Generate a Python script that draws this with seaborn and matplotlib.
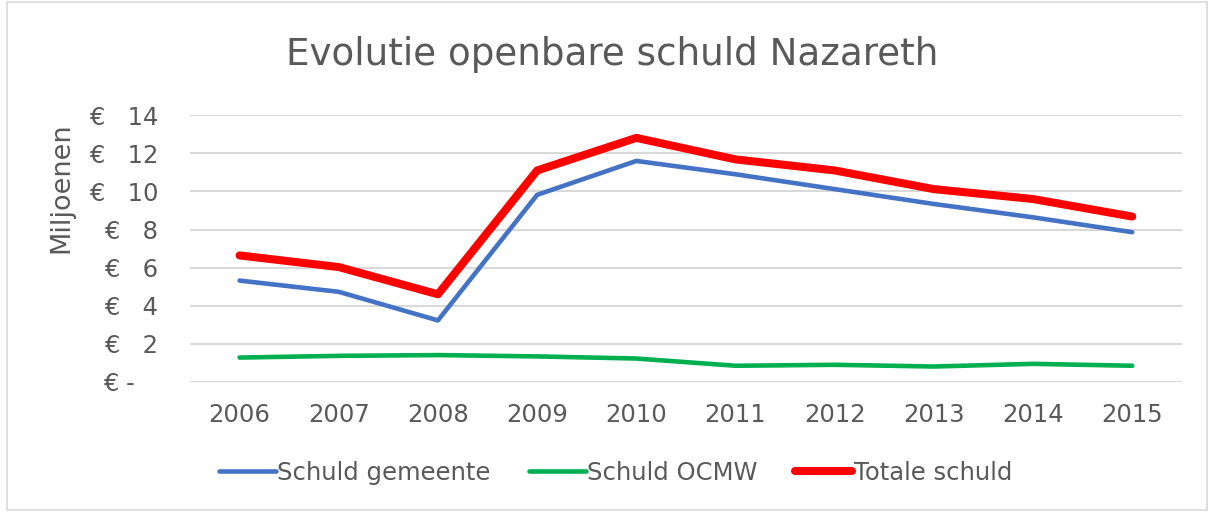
import pandas as pd
import seaborn as sns
import matplotlib.pyplot as plt
from matplotlib.patches import Rectangle

years = [2006, 2007, 2008, 2009, 2010, 2011, 2012, 2013, 2014, 2015]
schuld_gemeente = [5.32, 4.73, 3.23, 9.82, 11.60, 10.90, 10.12, 9.34, 8.64, 7.86]
schuld_ocmw = [1.28, 1.37, 1.41, 1.34, 1.23, 0.85, 0.90, 0.81, 0.95, 0.85]
totale_schuld = [6.64, 6.03, 4.60, 11.10, 12.81, 11.68, 11.10, 10.12, 9.60, 8.68]

series_names = ["Schuld gemeente", "Schuld OCMW", "Totale schuld"]
series_colors = ["#4472C4", "#00B050", "#FF0000"]
series_widths = [3.3, 3.3, 5.8]
y_ticks = [0, 2, 4, 6, 8, 10, 12, 14]
y_labels = ["€ -   ", "€   2", "€   4", "€   6", "€   8", "€   10", "€   12", "€   14"]

df = pd.DataFrame({
    "jaar": years * 3,
    "waarde": schuld_gemeente + schuld_ocmw + totale_schuld,
    "reeks": [series_names[0]] * 10 + [series_names[1]] * 10 + [series_names[2]] * 10,
})

sns.set_theme(style="white")
plt.rcParams["font.family"] = ["DejaVu Sans"]
text_color = "#595959"

fig = plt.figure(figsize=(12.14, 5.12), dpi=100)
ax = fig.add_axes([0.1565, 0.254, 0.817, 0.521])

for name, color, lw in zip(series_names, series_colors, series_widths):
    sub = df[df["reeks"] == name]
    sns.lineplot(data=sub, x="jaar", y="waarde", ax=ax, color=color,
                 linewidth=lw, label=name, solid_capstyle="round",
                 solid_joinstyle="round")

ax.set_xlim(2005.5, 2015.5)
ax.set_ylim(0, 14)
ax.set_xticks(years)
ax.set_xticklabels([str(y) for y in years], fontsize=17.5, color=text_color)
ax.set_yticks(y_ticks)
ax.set_yticklabels(y_labels, fontsize=17.5, color=text_color)
ax.tick_params(axis="both", length=0)
ax.tick_params(axis="x", pad=15)
ax.tick_params(axis="y", pad=23)
ax.grid(axis="y", color="#D9D9D9", linewidth=1.5)
ax.set_axisbelow(True)
for s in ax.spines.values():
    s.set_visible(False)

ax.set_xlabel("")
ax.set_ylabel("Miljoenen", fontsize=19.5, color=text_color)
ax.yaxis.set_label_coords(-0.117, 0.73)

fig.text(0.504, 0.893, "Evolutie openbare schuld Nazareth", ha="center", va="center",
         fontsize=26.8, color=text_color)

leg = ax.legend(loc="center", bbox_to_anchor=(0.429, -0.34), ncol=3, frameon=False,
                fontsize=17.5, handlelength=2.35, handletextpad=0.05, columnspacing=1.56)
for t in leg.get_texts():
    t.set_color(text_color)

fig.patches.append(Rectangle((0.006, 0.004), 0.988, 0.992, transform=fig.transFigure,
                             fill=False, edgecolor="#D9D9D9", linewidth=1.2))

fig.savefig("out.png", dpi=100)
